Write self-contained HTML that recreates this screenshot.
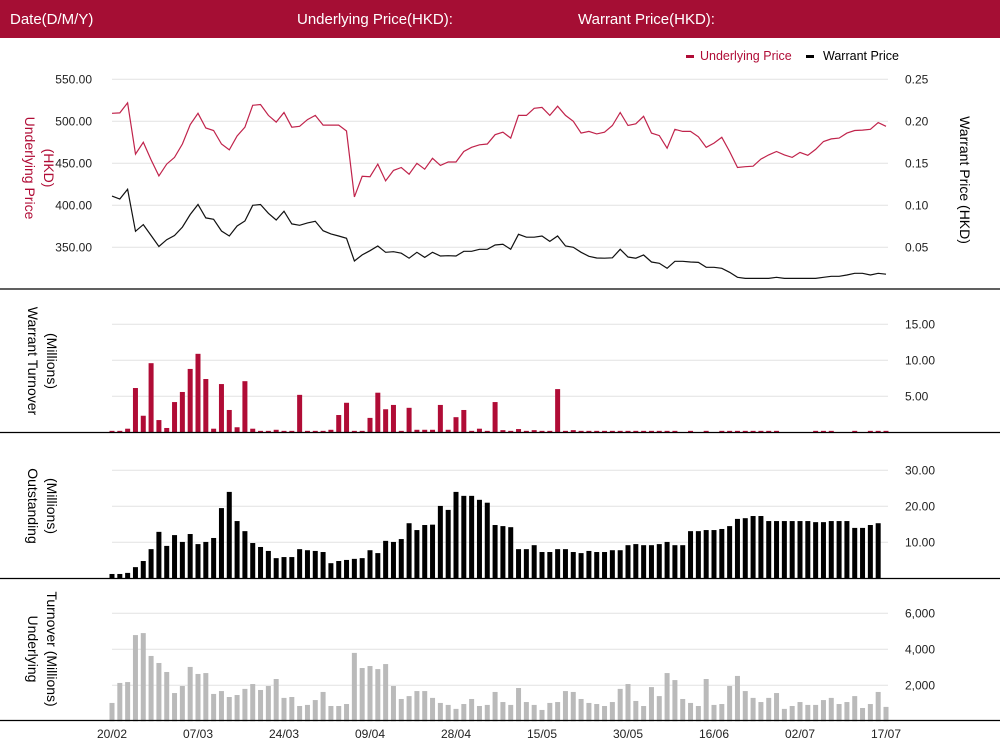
<!DOCTYPE html>
<html><head><meta charset="utf-8"><style>
body{margin:0;background:#fff;font-family:"Liberation Sans",sans-serif}
svg{display:block}
text{font-family:"Liberation Sans",sans-serif}
</style></head><body>
<svg id="c" width="1000" height="751" viewBox="0 0 1000 751">
<rect x="0" y="0" width="1000" height="38" fill="#a50e34"/>
<text x="10" y="24" fill="#fff" font-size="15">Date(D/M/Y)</text>
<text x="297" y="24" fill="#fff" font-size="15">Underlying Price(HKD):</text>
<text x="578" y="24" fill="#fff" font-size="15">Warrant Price(HKD):</text>
<g>
<rect x="686" y="55" width="8" height="3" fill="#b00c36"/>
<text x="700" y="60" fill="#b00c36" font-size="12.5">Underlying Price</text>
<rect x="806" y="55" width="8" height="3" fill="#000"/>
<text x="823" y="60" fill="#000" font-size="12.5">Warrant  Price</text>
</g>
<g font-size="14" text-anchor="middle">
<text transform="translate(25,168) rotate(90)" fill="#b00c36"><tspan x="0" y="0">Underlying Price</tspan><tspan x="0" y="-19">(HKD)</tspan></text>
<text transform="translate(960,180) rotate(90)" fill="#000">Warrant  Price (HKD)</text>
<text transform="translate(28,361) rotate(90)" fill="#000"><tspan x="0" y="0">Warrant  Turnover</tspan><tspan x="0" y="-19">(Millions)</tspan></text>
<text transform="translate(28,506) rotate(90)" fill="#000"><tspan x="0" y="0">Outstanding</tspan><tspan x="0" y="-19">(Millions)</tspan></text>
<text transform="translate(28,649) rotate(90)" fill="#000"><tspan x="0" y="0">Underlying</tspan><tspan x="0" y="-19">Turnover (Millions)</tspan></text>
</g>
</svg>
<script>
const underlyingPrice=[509.5,510,522,461,475,454,435,449,457,473,496,509.5,492,489,473,466,482.5,493,519,520,507,499,510.5,493,494,502,507,495.5,495.5,495.5,488.5,410,434.5,434,449,429,441.5,445,437,450,443,456,447.5,451.5,451.5,464,469,472,473,484,487,480,507,507,515.5,516.5,507,518,507,500,486,488,485,487,495,510.5,495,497,506,486,483,468,490.5,488,488,481.5,469,474,481,464,445,446,446.5,455,460,464,460,457,463,459.5,466.5,476,479,480,486,489,489.5,490.5,498.5,494];
const warrantPrice=[0.111,0.1075,0.119,0.069,0.077,0.064,0.051,0.059,0.064,0.074,0.089,0.101,0.085,0.0833,0.0694,0.0635,0.0754,0.0813,0.100,0.101,0.0905,0.0825,0.093,0.0778,0.0762,0.079,0.081,0.0698,0.066,0.0635,0.0607,0.0337,0.041,0.046,0.0515,0.044,0.0448,0.043,0.037,0.044,0.038,0.044,0.0397,0.040,0.0397,0.0452,0.0452,0.0476,0.0476,0.0527,0.0536,0.0476,0.0655,0.062,0.062,0.0635,0.057,0.0635,0.0515,0.050,0.044,0.0393,0.0373,0.037,0.0375,0.0476,0.0385,0.037,0.0408,0.0325,0.031,0.025,0.0333,0.0333,0.0325,0.032,0.0262,0.0262,0.025,0.0202,0.0143,0.013,0.013,0.013,0.013,0.0143,0.013,0.013,0.013,0.013,0.013,0.0143,0.0155,0.0155,0.017,0.019,0.019,0.017,0.019,0.018];
const warrantTurnover=[0.2,0.2,0.5,6.15,2.3,9.6,1.7,0.6,4.2,5.6,8.8,10.9,7.4,0.5,6.7,3.1,0.7,7.1,0.5,0.2,0.2,0.35,0.2,0.2,5.2,0.2,0.2,0.2,0.35,2.4,4.1,0.2,0.2,2.0,5.5,3.2,3.8,0.2,3.4,0.35,0.35,0.35,3.8,0.35,2.1,3.1,0.2,0.5,0.2,4.2,0.3,0.2,0.45,0.2,0.3,0.2,0.2,6.0,0.2,0.3,0.2,0.2,0.2,0.2,0.2,0.2,0.2,0.2,0.2,0.2,0.2,0.2,0.2,0,0.2,0,0.2,0,0.2,0.2,0.2,0.2,0.2,0.2,0.2,0.2,0,0,0,0,0.2,0.2,0.2,0,0,0.2,0,0.2,0.2,0.2];
const outstanding=[1.2,1.2,1.5,3.1,4.8,8.1,12.9,9.0,12.0,10.1,12.3,9.5,10.1,11.2,19.5,24,15.9,13.1,9.8,8.7,7.6,5.6,5.9,5.9,8.1,7.8,7.6,7.3,4.2,4.8,5.1,5.4,5.6,7.8,7.0,10.4,10.1,10.9,15.3,13.4,14.8,14.9,20.1,19,24,22.9,22.9,21.8,21,14.8,14.5,14.2,8.1,8.1,9.2,7.3,7.3,8.1,8.1,7.3,7.0,7.6,7.3,7.3,7.8,7.8,9.2,9.5,9.2,9.2,9.5,10.1,9.2,9.2,13.1,13.1,13.4,13.4,13.7,14.5,16.5,16.7,17.3,17.3,15.9,15.9,15.9,15.9,15.9,15.9,15.6,15.6,15.9,15.9,15.9,14.0,14.0,14.8,15.3,0];
const underlyingTurnover=[1020,2130,2180,4790,4900,3630,3240,2740,1570,1960,3020,2630,2680,1520,1680,1350,1460,1800,2070,1740,1960,2350,1300,1350,850,910,1180,1630,850,850,960,3800,2960,3070,2900,3180,1960,1240,1400,1680,1680,1300,1020,910,690,960,1240,850,910,1630,1070,910,1850,1070,910,630,1020,1070,1680,1630,1240,1020,960,850,1070,1800,2070,1130,850,1900,1400,2680,2290,1240,1020,850,2350,910,960,1960,2520,1680,1300,1070,1300,1570,690,850,1070,910,910,1180,1300,960,1070,1400,740,960,1630,800];
const xLabels=["20/02","07/03","24/03","09/04","28/04","15/05","30/05","16/06","02/07","17/07"];
const priceTicks=[550,500,450,400,350];
const warrantPriceTicks=[0.25,0.20,0.15,0.10,0.05];
const wtTicks=[5,10,15];
const osTicks=[10,20,30];
const utTicks=[2000,4000,6000];

const NS="http://www.w3.org/2000/svg";
const svg=document.getElementById('c');
function mk(tag,attrs,parent){const e=document.createElementNS(NS,tag);for(const k in attrs)e.setAttribute(k,attrs[k]);(parent||svg).appendChild(e);return e;}
const X0=112,X1=886;
const xAt=i=>X0+i*(X1-X0)/(underlyingPrice.length-1);
const yPrice=v=>121.3-(v-500)*42/50;
const yWP=v=>121.3-(v-0.20)*42/0.05;
const yWT=v=>432.3-v*7.2;
const yOS=v=>578.3-v*3.6;
const yUT=v=>721.3-v*0.018;

function grid(ticks,yf,side,fmt,name){
  ticks.forEach(t=>{
    const y=yf(t);
    const l=mk('line',{x1:112,x2:888,y1:y,y2:y,stroke:'#e2e2e2','stroke-width':1});
    
    
    const tx=mk('text',{x:side==='left'?92:905,y:y+4,'font-size':12,fill:'#222','text-anchor':side==='left'?'end':'start'});
    tx.textContent=fmt(t);
    
    
  });
}
grid(priceTicks,yPrice,'left',v=>v.toFixed(2),'price-axis');
warrantPriceTicks.forEach(t=>{
  const tx=mk('text',{x:905,y:yWP(t)+4,'font-size':12,fill:'#222'});
  tx.textContent=t.toFixed(2);
  
  
});
grid(wtTicks,yWT,'right',v=>v.toFixed(2),'warrant-turnover-axis');
grid(osTicks,yOS,'right',v=>v.toFixed(2),'outstanding-axis');
grid(utTicks,yUT,'right',v=>v.toLocaleString('en-US'),'underlying-turnover-axis');

function line(data,yf,color,name){
  const d=data.map((v,i)=>(i?'L':'M')+xAt(i).toFixed(1)+' '+yf(v).toFixed(1)).join(' ');
  const p=mk('path',{d:d,fill:'none',stroke:color,'stroke-width':1.2});
  
  
}
line(underlyingPrice,yPrice,'#c0234b','underlying-price-line');
line(warrantPrice,yWP,'#111','warrant-price-line');

function bars(data,yf,base,color,name){
  data.forEach((v,i)=>{
    if(v<=0)return;
    const y=yf(v);
    const r=mk('rect',{x:xAt(i)-2.5,y:y,width:5,height:base-y,fill:color});
    
    
  });
}
bars(warrantTurnover,yWT,432.3,'#b00c36','warrant-turnover-bar');
bars(outstanding,yOS,578.3,'#000','outstanding-bar');
bars(underlyingTurnover,yUT,721.3,'#bababa','underlying-turnover-bar');

[289,432.5,578.5,720.5].forEach(y=>{
  const l=mk('line',{x1:0,x2:1000,y1:y,y2:y,stroke:'#000','stroke-width':1.3});
  
  
});
xLabels.forEach((s,k)=>{
  const tx=mk('text',{x:xAt(k*11),y:738,'font-size':12,fill:'#222','text-anchor':'middle'});
  tx.textContent=s;
  
  
});
</script>
</body></html>
